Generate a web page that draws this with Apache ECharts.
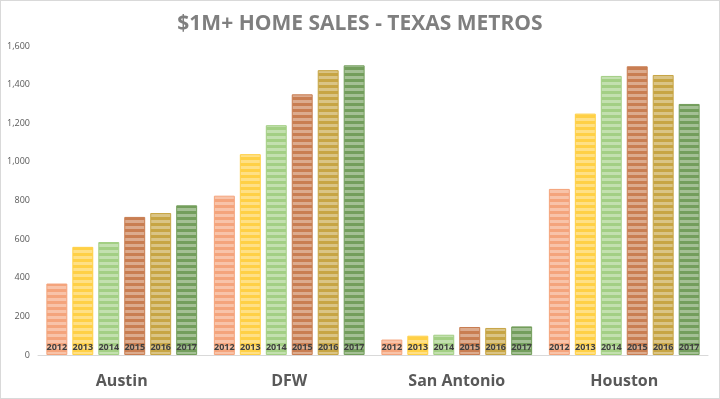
<!DOCTYPE html>
<html>
<head>
<meta charset="utf-8">
<script src="https://cdn.jsdelivr.net/npm/echarts@6/dist/echarts.min.js"></script>
<style>
  html, body { margin: 0; padding: 0; background: #fff; }
  #chart { width: 718px; height: 397px; border: 1px solid #d9d9d9; }
</style>
</head>
<body>
<div id="chart"></div>
<script>
// metros on the x axis
const metros = ['Austin', 'DFW', 'San Antonio', 'Houston']
const years = ['2012', '2013', '2014', '2015', '2016', '2017']
// sales per year, one value per metro
const sales2012 = [370, 825, 80, 860]
const sales2013 = [560, 1040, 100, 1250]
const sales2014 = [585, 1190, 105, 1445]
const sales2015 = [715, 1350, 145, 1495]
const sales2016 = [735, 1475, 140, 1450]
const sales2017 = [775, 1500, 148, 1300]
const yTicks = [0, 200, 400, 600, 800, 1000, 1200, 1400, 1600]

const allSales = [sales2012, sales2013, sales2014, sales2015, sales2016, sales2017]
const colors = ['#f4a47c', '#ffd046', '#a3cf84', '#c97e52', '#c7a544', '#739e5c']

// striped fill like the excel texture
function stripe(color) {
  const c = document.createElement('canvas')
  c.width = 4
  c.height = 6
  const ctx = c.getContext('2d')
  ctx.fillStyle = color
  ctx.fillRect(0, 0, 4, 6)
  ctx.fillStyle = 'rgba(255,255,255,0.35)'
  ctx.fillRect(0, 3, 4, 3)
  return { image: c, repeat: 'repeat' }
}

const chart = echarts.init(document.getElementById('chart'))
chart.setOption({
  animation: false,
  title: {
    text: '$1M+ HOME SALES - TEXAS METROS',
    left: 'center',
    top: 8,
    textStyle: {
      fontFamily: 'Open Sans',
      fontSize: 21,
      fontWeight: 'bold',
      color: '#7f7f7f'
    }
  },
  grid: {
    left: 37,
    right: 11,
    top: 45,
    bottom: 43
  },
  xAxis: {
    type: 'category',
    data: metros,
    axisTick: { show: false },
    axisLine: { lineStyle: { color: '#d9d9d9' } },
    axisLabel: {
      margin: 18,
      fontFamily: 'Open Sans',
      fontSize: 16,
      fontWeight: 'bold',
      color: '#595959'
    }
  },
  yAxis: {
    type: 'value',
    min: yTicks[0],
    max: yTicks[yTicks.length - 1],
    interval: 200,
    splitLine: { show: false },
    axisLine: { show: false },
    axisTick: { show: false },
    axisLabel: {
      fontFamily: 'Open Sans',
      fontSize: 9,
      color: '#595959',
      formatter: v => v.toLocaleString('en-US')
    }
  },
  series: years.map((y, i) => ({
    name: y,
    type: 'bar',
    data: allSales[i],
    barGap: '24%',
    barCategoryGap: '10%',
    itemStyle: {
      color: stripe(colors[i]),
      borderColor: colors[i],
      borderWidth: 1
    },
    label: {
      show: true,
      position: 'insideBottom',
      distance: 3,
      formatter: y,
      fontFamily: 'Open Sans',
      fontSize: 9,
      fontWeight: 'bold',
      color: '#404040'
    }
  }))
})
</script>
</body>
</html>
